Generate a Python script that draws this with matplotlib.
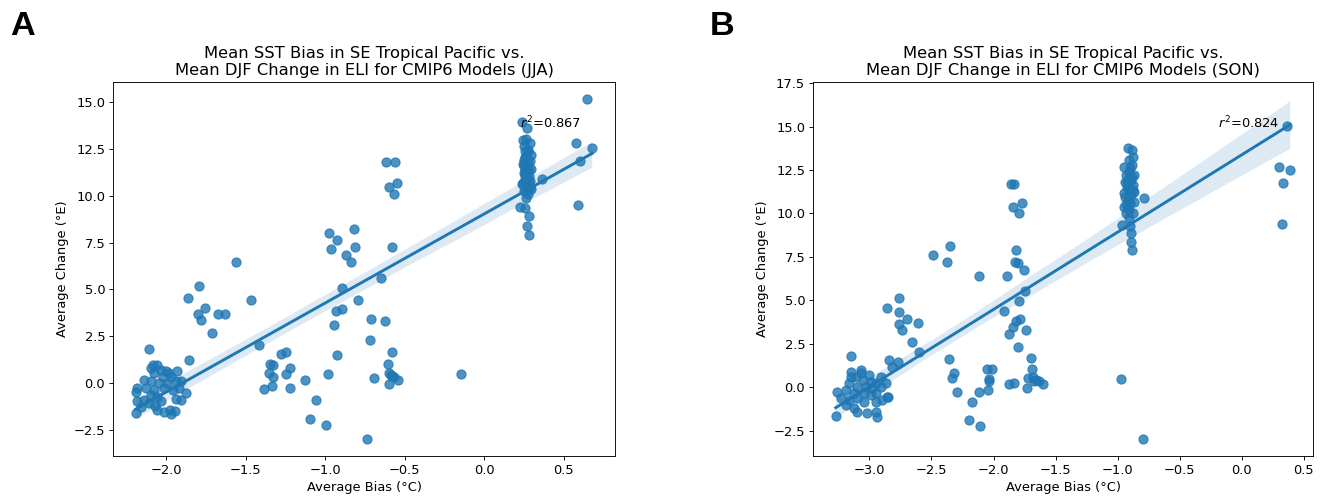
"""
SST bias vs ELI change scatter, two seasons
"""

import matplotlib as mpl
import matplotlib.pyplot as plt
import numpy as np
import seaborn as sns

DPI = 81
mpl.rcParams['figure.dpi'] = DPI
mpl.rcParams['savefig.dpi'] = DPI
mpl.rcParams['font.size'] = 11.5
mpl.rcParams['axes.titlesize'] = 14.5

# --- JJA panel (A) ---
jja_bias = [
    0.647, 0.580, 0.679, 0.605, 0.588, 0.363,
    # vertical cluster near 0.25
    0.237, 0.269, 0.265, 0.248, 0.273, 0.294, 0.258, 0.286, 0.244, 0.273,
    0.294, 0.248, 0.279, 0.258, 0.290, 0.237, 0.269, 0.294, 0.248, 0.273,
    0.265, 0.227, 0.258, 0.279, 0.269, 0.279, 0.258, 0.286, 0.258,
    0.262, 0.275, 0.250, 0.283, 0.255, 0.270, 0.245, 0.288, 0.260, 0.276,
    0.252, 0.268, 0.280, 0.241,
    # middle
    -0.618, -0.561, -0.546, -0.599, -0.567,
    -0.975, -0.820, -0.923, -0.965, -0.815, -0.870, -0.837, -0.580, -1.464,
    -0.897, -0.652, -0.795, -0.935, -0.895, -0.946, -0.715, -0.626, -0.719,
    -1.416, -1.275, -1.244, -0.923, -0.578, -1.345, -1.223, -1.355, -1.328,
    -1.248, -1.387, -1.337, -1.223, -1.127, -0.982, -1.055, -1.093, -0.992,
    -0.740, -0.692, -0.604, -0.601, -0.585, -0.565, -0.578, -0.601, -0.541,
    -0.148, -1.330,
    -1.559, -1.794, -1.861, -1.754, -1.800, -1.779, -1.674, -1.632, -1.710,
    # bottom-left cluster
    -2.111, -1.855, -2.191, -2.097, -2.055, -2.002, -1.929, -2.076, -2.023,
    -1.971, -2.139, -2.097, -2.044, -1.992, -1.939, -2.181, -2.128, -2.191,
    -2.076, -2.013, -1.960, -1.918, -1.876, -2.181, -2.139, -2.097, -2.055,
    -1.939, -2.034, -2.072, -2.059, -2.013, -1.975, -1.946, -1.971, -2.107,
    -2.160, -1.908, -2.034, -2.086, -1.981, -1.908,
]
jja_change = [
    15.18, 12.79, 12.56, 11.85, 9.48, 10.90,
    13.93, 13.63, 13.01, 12.68, 12.38, 12.20, 12.08, 11.85, 11.67, 11.54,
    11.44, 11.22, 11.05, 10.87, 10.78, 10.60, 10.51, 10.37, 10.24, 10.07,
    9.89, 9.39, 9.35, 8.91, 8.41, 7.93, 11.37, 12.83, 12.38,
    12.10, 11.75, 11.60, 11.30, 11.10, 10.95, 10.70, 10.45, 10.30, 12.45,
    11.90, 11.20, 10.65, 12.95,
    11.79, 11.79, 10.69, 10.48, 10.08,
    7.99, 8.21, 7.63, 7.17, 7.26, 6.83, 6.48, 7.24, 4.42,
    5.05, 5.62, 4.44, 3.83, 3.98, 3.08, 3.44, 3.34, 2.32,
    2.05, 1.55, 1.64, 1.50, 1.68, 1.03, 0.82, 0.54, 0.32,
    0.50, -0.29, -0.16, -0.25, 0.16, 0.51, -0.89, -1.93, -2.22,
    -3.00, 0.27, 1.00, 0.55, 0.42, 0.35, 0.38, -0.07, 0.18,
    0.50, 0.98,
    6.47, 5.18, 4.56, 3.99, 3.69, 3.35, 3.69, 3.69, 2.65,
    1.82, 1.25, -1.61, 0.80, 0.98, 0.62, 0.62, 0.53, 0.35,
    0.35, 0.18, 0.09, 0.00, 0.00, 0.09, -0.27, -0.27, -0.45,
    -0.36, -0.27, -0.36, -0.27, -0.54, -0.98, -0.89, -0.63, -0.72,
    -0.86, -0.93, -1.20, -1.43, -1.52, -1.43, -1.47, -1.64, -1.07,
    -1.25, -0.89, 0.71, 0.98, 0.53, 0.09,
]

# --- SON panel (B) ---
son_bias = [
    0.366, 0.304, 0.392, 0.331, 0.323,
    # vertical cluster near -0.9
    -0.919, -0.883, -0.905, -0.899, -0.945, -0.865, -0.905, -0.937, -0.878,
    -0.919, -0.945, -0.891, -0.919, -0.865, -0.945, -0.905, -0.790, -0.932,
    -0.964, -0.899, -0.891, -0.891, -0.886, -0.873, -0.910, -0.878, -0.932,
    -0.878, -0.919, -0.912, -0.895, -0.925, -0.870, -0.940, -0.902, -0.915,
    -0.885, -0.928, -0.896, -0.908, -0.880, -0.935,
    -0.972, -0.797,
    # middle
    -1.858, -1.832, -1.845, -1.772, -1.791, -2.347, -2.490, -2.374, -1.818,
    -1.826, -1.804, -1.751, -2.119, -1.888, -1.743, -1.791, -1.918, -2.855,
    -2.758, -2.758, -2.696, -2.766, -2.611, -2.739, -2.659, -2.602, -1.786,
    -1.818, -1.840, -1.738, -1.872, -1.799, -1.697, -1.689, -1.724, -1.684,
    -1.657, -1.630, -1.603, -1.670, -1.730, -1.872, -1.832, -2.355, -2.320,
    -2.334, -2.296, -2.175, -2.114, -2.197, -2.111, -2.054, -2.012, -2.038,
    -2.035, -2.041,
    # bottom-left cluster
    -3.145, -3.272, -2.841, -2.774, -2.815, -3.151, -3.070, -3.003, -2.909,
    -3.110, -3.056, -2.989, -2.949, -3.164, -3.097, -3.030, -2.976, -2.909,
    -3.258, -3.191, -3.123, -3.043, -2.949, -2.855, -3.231, -3.164, -3.097,
    -2.895, -3.043, -3.191, -3.123, -2.949, -3.016, -2.949, -2.941, -3.102,
    -2.869, -3.151, -3.070, -2.989, -2.852,
]
son_change = [
    15.06, 12.68, 12.51, 11.78, 9.40,
    13.76, 13.66, 13.09, 12.61, 12.70, 12.22, 12.03, 11.84, 11.65,
    11.46, 11.17, 11.07, 10.78, 10.69, 10.40, 10.21, 10.88, 10.02,
    9.34, 9.30, 8.87, 8.38, 7.90, 13.28, 9.73, 11.36, 12.22,
    10.02, 11.74, 12.40, 11.95, 11.55, 11.25, 10.95, 10.60, 10.30,
    12.10, 11.80, 11.40, 11.00, 12.80, 10.55,
    0.48, -2.97,
    11.70, 11.70, 10.40, 10.63, 10.01, 8.13, 7.62, 7.19, 7.90,
    7.19, 7.15, 6.75, 6.43, 6.43, 5.56, 4.99, 4.41, 4.55,
    5.12, 4.35, 3.93, 3.64, 3.68, 3.30, 2.63, 2.05, 3.93,
    3.84, 3.45, 3.30, 3.07, 2.30, 1.67, 1.04, 0.52, 0.61,
    0.42, 0.33, 0.19, 0.35, -0.06, 0.19, 0.27, 1.63, 0.81,
    0.52, -0.25, -0.88, -0.29, -1.88, -2.21, 1.04, 1.04, 0.50,
    0.36, -0.15,
    1.82, -1.65, 1.57, 1.47, 1.19, 0.90, 1.00, 0.71, 0.61,
    0.61, 0.42, 0.32, 0.23, 0.23, 0.03, 0.03, -0.06, 0.03,
    -0.25, -0.16, -0.35, -0.35, -0.35, -0.54, -0.63, -0.73, -0.63,
    -0.73, -0.83, -1.02, -1.21, -0.83, -1.50, -1.40, -1.69, -1.40,
    0.23, 0.61, 0.81, -0.44, -0.54,
]

panels = [
    ('A', jja_bias, jja_change, 'JJA', '0.867', (-3.89, 16.07)),
    ('B', son_bias, son_change, 'SON', '0.824', (-3.96, 17.57)),
]

W, H = 1324, 500
fig = plt.figure(figsize=(W / DPI, H / DPI))

# axes boxes in pixels: left, right, bottom, top
boxes = [(113, 615, 456, 82), (813, 1313, 456, 82)]
letter_x = [10, 710]

for (letter, bias, change, season, r2, ylim), box, lx in zip(panels, boxes, letter_x):
    l, r, b, t = box
    ax = fig.add_axes([l / W, 1 - b / H, (r - l) / W, (b - t) / H])
    sns.regplot(x=np.array(bias), y=np.array(change), ax=ax, seed=0,
                scatter_kws={'s': 66}, line_kws={'lw': 2.6})
    ax.set_ylim(*ylim)
    ax.set_title('Mean SST Bias in SE Tropical Pacific vs.\n'
                 'Mean DJF Change in ELI for CMIP6 Models (%s)' % season)
    ax.set_xlabel('Average Bias (°C)')
    ax.set_ylabel('Average Change (°E)')
    ax.text(0.81, 0.89, r'$r^2$=' + r2, transform=ax.transAxes, va='center')
    fig.text(lx / W, 1 - 35 / H, letter, fontsize=25 * 72 / 0.729 / DPI,
             fontweight='bold', family='Liberation Sans')

fig.savefig('out.png', dpi=DPI)
